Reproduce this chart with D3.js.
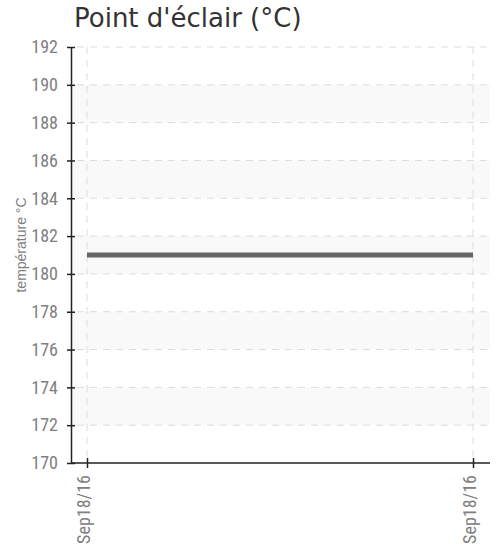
<!DOCTYPE html>
<html>
<head>
<meta charset="utf-8">
<script src="https://cdn.jsdelivr.net/npm/d3@7"></script>
<style>
  body { margin: 0; background: #fff; }
  svg { display: block; }
</style>
</head>
<body>
<svg id="chart"></svg>
<script>
// data
const dates = ['Sep18/16', 'Sep18/16']
const values = [181, 181]
const yTicks = [170, 172, 174, 176, 178, 180, 182, 184, 186, 188, 190, 192]
const shaded = [188, 184, 180, 176, 172] // lower edge of each grey band
const chartTitle = "Point d'éclair (°C)"
const yLabel = 'température °C'

const svgWidth = 503,
	svgHeight = 545
const margin = { top: 47, left: 71 }
const width = 419,
	height = 416

const svg = d3.select('#chart').attr('width', svgWidth).attr('height', svgHeight)

const g = svg.append('g').attr('transform', 'translate(' + margin.left + ',' + margin.top + ')')

const xScale = d3.scalePoint().domain(d3.range(dates.length)).range([16, 402])
const yScale = d3.scaleLinear().domain([170, 192]).range([height, 0])

// alternating bands
g.selectAll('rect.band')
	.data(shaded)
	.enter()
	.append('rect')
	.attr('class', 'band')
	.attr('x', 0)
	.attr('width', width)
	.attr('y', d => yScale(d + 2))
	.attr('height', d => yScale(d) - yScale(d + 2))
	.attr('fill', '#f9f9f9')

// horizontal grid
g.selectAll('line.hgrid')
	.data(yTicks.filter(d => d > 170))
	.enter()
	.append('line')
	.attr('x1', 6)
	.attr('x2', width - 2)
	.attr('y1', d => yScale(d))
	.attr('y2', d => yScale(d))
	.attr('stroke', '#dcdcdc')
	.attr('stroke-dasharray', '7,6')

// vertical grid
g.selectAll('line.vgrid')
	.data(dates)
	.enter()
	.append('line')
	.attr('x1', (d, i) => xScale(i))
	.attr('x2', (d, i) => xScale(i))
	.attr('y1', 0)
	.attr('y2', height)
	.attr('stroke', '#dcdcdc')
	.attr('stroke-dasharray', '7,6')

// data line
const line = d3.line()
	.x((d, i) => xScale(i))
	.y(d => yScale(d))

g.append('path')
	.datum(values)
	.attr('d', line)
	.attr('fill', 'none')
	.attr('stroke', '#666')
	.attr('stroke-width', 5)

// y axis
const yAxis = d3.axisLeft(yScale).tickValues(yTicks).tickSizeInner(4).tickSizeOuter(0).tickPadding(9)
const gy = g.append('g').call(yAxis)
gy.select('.domain').attr('stroke', '#222').attr('stroke-width', 1.5)
gy.selectAll('.tick line').attr('x2', 4).attr('x1', -4).attr('stroke', '#222').attr('stroke-width', 1.5)
gy.selectAll('.tick text')
	.attr('fill', '#808080')
	.style('font-family', '"Liberation Sans Narrow", "Roboto Condensed", sans-serif')
	.style('font-size', '18px')

// x axis
const xAxis = d3.axisBottom(xScale).tickFormat(i => dates[i]).tickSizeOuter(0)
const gx = g.append('g').attr('transform', 'translate(0,' + height + ')').call(xAxis)
gx.select('.domain').attr('d', 'M0,0H' + width).attr('stroke', '#222').attr('stroke-width', 1.5)
gx.selectAll('.tick line').attr('y1', -5).attr('y2', 5).attr('stroke', '#222').attr('stroke-width', 1.5)
gx.selectAll('.tick text')
	.attr('fill', '#808080')
	.attr('text-anchor', 'end')
	.attr('transform', 'translate(2,12) rotate(-90)')
	.attr('x', 0)
	.attr('y', 0)
	.attr('dy', 0)
	.style('font-family', '"Liberation Sans Narrow", "Roboto Condensed", sans-serif')
	.style('font-size', '18px')

// y label
svg.append('text')
	.attr('transform', 'translate(26,245) rotate(-90)')
	.attr('text-anchor', 'middle')
	.attr('fill', '#808080')
	.style('font-family', '"Liberation Sans Narrow", sans-serif')
	.style('font-size', '14px')
	.text(yLabel)

// title
svg.append('text')
	.attr('x', 74)
	.attr('y', 27)
	.attr('fill', '#333')
	.style('font-family', '"DejaVu Sans", sans-serif')
	.style('font-size', '26px')
	.text(chartTitle)
</script>
</body>
</html>
